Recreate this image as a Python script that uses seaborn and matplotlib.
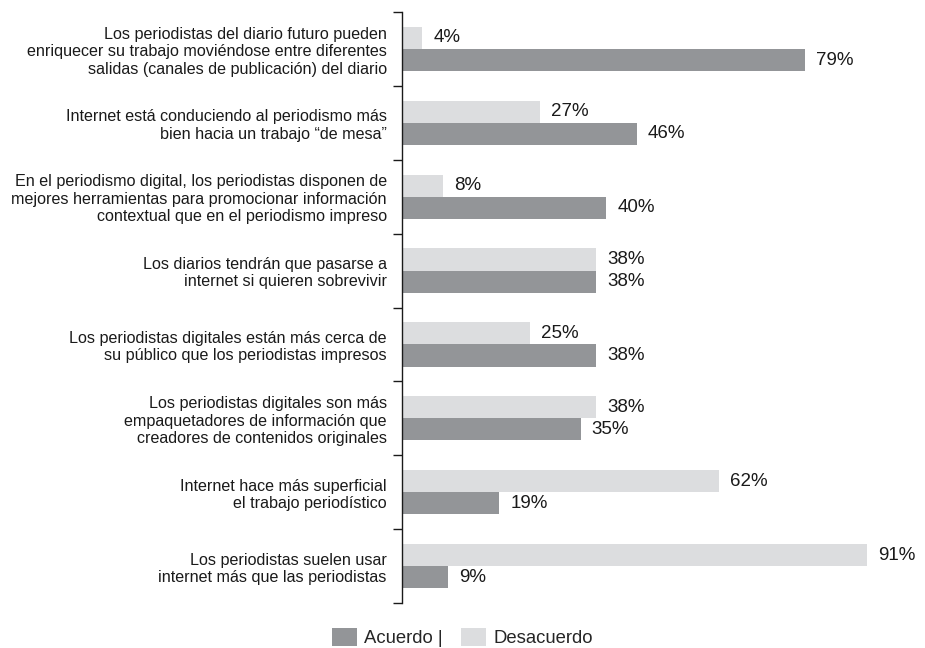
import matplotlib
matplotlib.use("Agg")
import matplotlib.pyplot as plt
import seaborn as sns
import pandas as pd
import numpy as np
from matplotlib.patches import Patch

categories = [
    "Los periodistas del diario futuro pueden\nenriquecer su trabajo moviéndose entre diferentes\nsalidas (canales de publicación) del diario",
    "Internet está conduciendo al periodismo más\nbien hacia un trabajo “de mesa”",
    "En el periodismo digital, los periodistas disponen de\nmejores herramientas para promocionar información\ncontextual que en el periodismo impreso",
    "Los diarios tendrán que pasarse a\ninternet si quieren sobrevivir",
    "Los periodistas digitales están más cerca de\nsu público que los periodistas impresos",
    "Los periodistas digitales son más\nempaquetadores de información que\ncreadores de contenidos originales",
    "Internet hace más superficial\nel trabajo periodístico",
    "Los periodistas suelen usar\ninternet más que las periodistas",
]
acuerdo = [79, 46, 40, 38, 38, 35, 19, 9]
desacuerdo = [4, 27, 8, 38, 25, 38, 62, 91]
series_names = ["Acuerdo", "Desacuerdo"]
legend_labels = ["Acuerdo |", "Desacuerdo"]

dark = "#939598"
light = "#dcdddf"
textc = "#1a1a1a"

df = pd.DataFrame({
    "cat": categories * 2,
    "serie": [series_names[1]] * len(categories) + [series_names[0]] * len(categories),
    "val": desacuerdo + acuerdo,
})

sns.set_style("white")
plt.rcParams["font.family"] = ["Liberation Sans", "DejaVu Sans"]

fig = plt.figure(figsize=(9.25, 6.48), dpi=100)
ax = fig.add_axes([0.4346, 0.0694, 0.552, 0.9121])

sns.barplot(data=df, y="cat", x="val", hue="serie", order=categories,
            hue_order=[series_names[1], series_names[0]],
            palette={series_names[0]: dark, series_names[1]: light},
            width=0.6, dodge=True, orient="h", ax=ax, legend=False,
            saturation=1, linewidth=0)

for cont in ax.containers:
    ax.bar_label(cont, labels=[f"{int(v)}%" for v in cont.datavalues],
                 padding=8, fontsize=13.5, color=textc)

ax.set_xlim(0, 100)
ax.set_ylim(len(categories) - 0.5, -0.5)
ax.set_xlabel("")
ax.set_ylabel("")
ax.set_xticks([])
for s in ["top", "right", "bottom"]:
    ax.spines[s].set_visible(False)
ax.spines["left"].set_color(textc)
ax.spines["left"].set_linewidth(1.0)

ax.set_yticks(range(len(categories)))
ax.set_yticklabels(categories, fontsize=11.6, color=textc, linespacing=1.2)
ax.set_yticks(np.arange(-0.5, len(categories), 1.0), minor=True)
ax.tick_params(axis="y", which="major", length=0, pad=11)
ax.tick_params(axis="y", which="minor", length=6.5, width=1.0, color=textc, left=True)

handles = [Patch(facecolor=dark, edgecolor="none"), Patch(facecolor=light, edgecolor="none")]
fig.legend(handles, legend_labels, loc="lower center", bbox_to_anchor=(0.5, -0.013),
           ncol=2, frameon=False, fontsize=13.3, handlelength=1.36, handleheight=1.15,
           handletextpad=0.38, columnspacing=1.0, borderpad=0)

fig.savefig("out.png", dpi=100)
